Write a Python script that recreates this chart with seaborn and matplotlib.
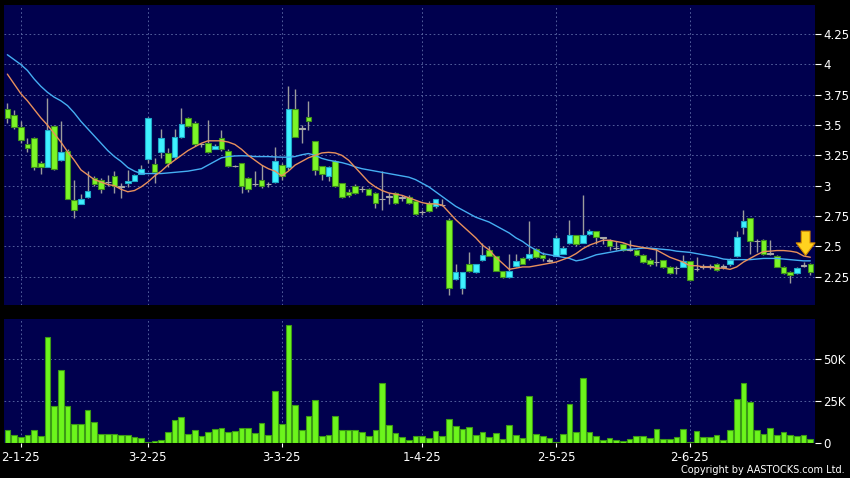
import matplotlib
matplotlib.use('Agg')
import matplotlib.pyplot as plt
import seaborn as sns
import numpy as np

# daily candles, 30-12-24 .. 27-6-25
opens = [3.63, 3.58, 3.48, 3.34, 3.39, 3.19, 3.15, 3.49, 3.21, 3.29,
         2.88, 2.85, 2.905, 3.06, 3.05, 3.03, 3.08, 2.99, 3.02, 3.04,
         3.10, 3.22, 3.18, 3.28, 3.27, 3.24, 3.40, 3.56, 3.52, 3.34,
         3.35, 3.30, 3.39, 3.29, 3.16, 3.19, 3.06, 3.01, 3.05, 3.01,
         3.03, 3.17, 3.15, 3.63, 3.47, 3.57, 3.37, 3.16, 3.08, 3.20,
         3.02, 2.945, 3.00, 2.97, 2.97, 2.94, 2.89, 2.91, 2.94, 2.90,
         2.91, 2.87, 2.78, 2.86, 2.83, 2.84, 2.72, 2.23, 2.16, 2.35,
         2.29, 2.39, 2.47, 2.42, 2.30, 2.25, 2.34, 2.40, 2.40, 2.48,
         2.43, 2.38, 2.42, 2.44, 2.53, 2.59, 2.53, 2.60, 2.63, 2.57,
         2.555, 2.485, 2.52, 2.47, 2.47, 2.43, 2.39, 2.37, 2.39, 2.33,
         2.32, 2.33, 2.38, 2.31, 2.33, 2.33, 2.35, 2.33, 2.35, 2.42,
         2.66, 2.73, 2.54, 2.55, 2.44, 2.42, 2.33, 2.29, 2.28, 2.34,
         2.35]
highs = [3.68, 3.62, 3.53, 3.39, 3.40, 3.20, 3.72, 3.50, 3.53, 3.30,
         3.05, 2.93, 3.12, 3.08, 3.06, 3.09, 3.12, 3.02, 3.13, 3.10,
         3.17, 3.57, 3.23, 3.47, 3.31, 3.47, 3.64, 3.57, 3.53, 3.35,
         3.545, 3.34, 3.46, 3.30, 3.17, 3.19, 3.07, 3.12, 3.17, 3.03,
         3.32, 3.19, 3.82, 3.80, 3.50, 3.70, 3.37, 3.16, 3.16, 3.21,
         3.02, 2.97, 3.01, 3.00, 2.98, 2.95, 3.12, 2.94, 2.95, 2.92,
         2.92, 2.88, 2.80, 2.87, 2.89, 2.89, 2.73, 2.35, 2.29, 2.45,
         2.35, 2.53, 2.50, 2.42, 2.30, 2.44, 2.44, 2.41, 2.71, 2.49,
         2.45, 2.40, 2.59, 2.50, 2.72, 2.59, 2.92, 2.64, 2.63, 2.58,
         2.56, 2.54, 2.53, 2.55, 2.48, 2.44, 2.40, 2.485, 2.39, 2.34,
         2.34, 2.43, 2.38, 2.41, 2.35, 2.35, 2.36, 2.35, 2.40, 2.63,
         2.80, 2.73, 2.56, 2.56, 2.55, 2.43, 2.34, 2.30, 2.33, 2.37,
         2.36]
lows = [3.52, 3.47, 3.35, 3.28, 3.13, 3.10, 3.15, 3.13, 3.20, 2.89,
        2.73, 2.85, 2.90, 3.00, 2.94, 3.00, 2.94, 2.90, 2.99, 3.04,
        3.10, 3.19, 3.02, 3.23, 3.15, 3.22, 3.39, 3.48, 3.33, 3.32,
        3.27, 3.30, 3.29, 3.15, 3.15, 2.94, 2.95, 3.00, 2.98, 2.99,
        3.02, 3.05, 3.13, 3.40, 3.35, 3.46, 3.09, 3.05, 3.04, 2.99,
        2.90, 2.91, 2.93, 2.95, 2.92, 2.82, 2.80, 2.85, 2.85, 2.87,
        2.85, 2.76, 2.76, 2.78, 2.82, 2.83, 2.10, 2.22, 2.11, 2.29,
        2.28, 2.38, 2.42, 2.30, 2.24, 2.24, 2.33, 2.35, 2.39, 2.40,
        2.38, 2.37, 2.42, 2.44, 2.52, 2.50, 2.53, 2.59, 2.52, 2.52,
        2.47, 2.47, 2.46, 2.46, 2.42, 2.36, 2.34, 2.34, 2.32, 2.27,
        2.27, 2.33, 2.21, 2.30, 2.31, 2.31, 2.30, 2.31, 2.34, 2.41,
        2.60, 2.44, 2.45, 2.43, 2.43, 2.33, 2.27, 2.20, 2.27, 2.33,
        2.26]
closes = [3.56, 3.48, 3.38, 3.31, 3.15, 3.15, 3.46, 3.14, 3.28, 2.89,
          2.80, 2.89, 2.96, 3.01, 2.97, 3.03, 3.00, 2.99, 3.04, 3.09,
          3.14, 3.56, 3.11, 3.39, 3.19, 3.40, 3.51, 3.49, 3.34, 3.34,
          3.28, 3.33, 3.30, 3.165, 3.16, 3.00, 2.97, 3.01, 3.00, 3.01,
          3.20, 3.08, 3.63, 3.40, 3.47, 3.53, 3.13, 3.10, 3.15, 3.00,
          2.91, 2.92, 2.94, 2.97, 2.925, 2.86, 2.89, 2.91, 2.86, 2.90,
          2.86, 2.77, 2.78, 2.79, 2.89, 2.84, 2.16, 2.29, 2.29, 2.30,
          2.35, 2.43, 2.42, 2.30, 2.25, 2.30, 2.38, 2.35, 2.44, 2.41,
          2.40, 2.38, 2.57, 2.49, 2.59, 2.52, 2.59, 2.63, 2.58, 2.57,
          2.50, 2.485, 2.47, 2.47, 2.43, 2.37, 2.35, 2.37, 2.33, 2.28,
          2.32, 2.38, 2.22, 2.31, 2.33, 2.33, 2.305, 2.33, 2.39, 2.58,
          2.71, 2.54, 2.54, 2.44, 2.44, 2.33, 2.28, 2.26, 2.32, 2.34,
          2.29]
# volume in thousands of shares
volumes = [8.0, 5.0, 3.8, 4.6, 8.0, 4.4, 63.4, 22.3, 43.7, 22.3,
           11.6, 11.4, 19.5, 12.4, 5.2, 5.6, 5.4, 4.6, 5.0, 3.8,
           3.2, 0.3, 1.2, 1.8, 6.8, 13.6, 15.4, 5.4, 7.8, 4.0,
           6.8, 8.6, 9.2, 6.4, 7.4, 9.0, 9.0, 6.0, 11.8, 4.8,
           31.1, 11.6, 70.8, 22.9, 7.6, 16.2, 25.7, 4.2, 5.0, 16.2,
           7.8, 8.0, 8.0, 6.8, 4.4, 7.6, 35.9, 10.6, 6.2, 3.4,
           2.0, 4.4, 4.0, 3.0, 7.4, 4.0, 14.4, 10.0, 8.4, 9.6,
           5.0, 6.6, 3.4, 6.0, 2.6, 10.6, 5.0, 3.0, 27.9, 5.4,
           4.0, 3.0, 0.6, 5.4, 23.3, 6.6, 38.7, 6.6, 4.4, 2.0,
           3.0, 1.8, 1.4, 2.6, 4.0, 4.0, 3.0, 8.6, 2.6, 2.6,
           3.8, 8.4, 0.4, 7.0, 3.4, 3.4, 4.6, 2.0, 8.0, 26.3,
           35.9, 24.3, 8.0, 5.6, 9.0, 4.8, 6.4, 5.0, 4.4, 4.6,
           2.4]
# moving averages as drawn on the chart
ma_short = [3.92, 3.84, 3.76, 3.70, 3.63, 3.56, 3.50, 3.43, 3.36, 3.28,
            3.21, 3.13, 3.09, 3.05, 3.03, 3.01, 3.00, 2.97, 2.95, 2.96,
            2.99, 3.03, 3.08, 3.12, 3.17, 3.21, 3.25, 3.29, 3.32, 3.35,
            3.37, 3.37, 3.37, 3.36, 3.34, 3.30, 3.25, 3.21, 3.17, 3.14,
            3.12, 3.08, 3.12, 3.17, 3.20, 3.23, 3.25, 3.27, 3.275, 3.27,
            3.25, 3.21, 3.15, 3.09, 3.03, 2.99, 2.96, 2.94, 2.93, 2.92,
            2.90, 2.88, 2.86, 2.85, 2.85, 2.84, 2.78, 2.72, 2.67, 2.62,
            2.57, 2.51, 2.47, 2.41, 2.36, 2.31, 2.32, 2.33, 2.33, 2.34,
            2.35, 2.36, 2.37, 2.39, 2.41, 2.44, 2.48, 2.51, 2.53, 2.55,
            2.55, 2.54, 2.53, 2.51, 2.50, 2.49, 2.48, 2.47, 2.44, 2.41,
            2.39, 2.37, 2.34, 2.34, 2.33, 2.33, 2.32, 2.32, 2.31, 2.33,
            2.37, 2.40, 2.43, 2.457, 2.46, 2.465, 2.465, 2.46, 2.45, 2.42,
            2.41]
ma_long = [4.08, 4.04, 4.00, 3.95, 3.88, 3.82, 3.77, 3.73, 3.70, 3.66,
           3.60, 3.53, 3.47, 3.41, 3.35, 3.29, 3.24, 3.20, 3.15, 3.12,
           3.10, 3.10, 3.10, 3.10, 3.105, 3.11, 3.115, 3.12, 3.13, 3.14,
           3.17, 3.20, 3.23, 3.24, 3.245, 3.247, 3.245, 3.24, 3.24, 3.24,
           3.237, 3.235, 3.235, 3.24, 3.255, 3.265, 3.25, 3.225, 3.21, 3.20,
           3.19, 3.175, 3.155, 3.14, 3.13, 3.12, 3.11, 3.10, 3.09, 3.08,
           3.07, 3.05, 3.02, 2.99, 2.95, 2.91, 2.87, 2.83, 2.80, 2.77,
           2.74, 2.72, 2.70, 2.67, 2.64, 2.61, 2.57, 2.54, 2.50, 2.47,
           2.44, 2.43, 2.42, 2.41, 2.40, 2.38, 2.39, 2.41, 2.43, 2.44,
           2.45, 2.46, 2.47, 2.476, 2.48, 2.485, 2.485, 2.48, 2.475, 2.47,
           2.46, 2.455, 2.45, 2.44, 2.43, 2.42, 2.41, 2.395, 2.39, 2.39,
           2.39, 2.39, 2.395, 2.40, 2.40, 2.40, 2.395, 2.39, 2.385, 2.38,
           2.38]

date_ticks = [2, 21, 41, 62, 82, 102]
date_labels = ['2-1-25', '3-2-25', '3-3-25', '1-4-25', '2-5-25', '2-6-25']
price_ticks = [2.25, 2.5, 2.75, 3.0, 3.25, 3.5, 3.75, 4.0, 4.25]
price_labels = ['2.25', '2.5', '2.75', '3', '3.25', '3.5', '3.75', '4', '4.25']
vol_ticks = [0, 25, 50]
vol_labels = ['0', '25K', '50K']

BG = '#00004e'
GRID = '#5f6da8'
UP_FILL, UP_EDGE = '#3ff2ff', '#1fa8c8'
DN_FILL, DN_EDGE = '#7cf527', '#3f8f1c'
FLAT = '#a8a8a8'

sns.set_theme(style='dark', rc={'axes.facecolor': BG, 'figure.facecolor': 'black'})
plt.rcParams['font.family'] = ['DejaVu Sans']

fig = plt.figure(figsize=(8.5, 4.78), dpi=100, facecolor='black')
ax = fig.add_axes([4 / 850, 1 - 305 / 478, 811 / 850, 300 / 478])
axv = fig.add_axes([4 / 850, 1 - 443 / 478, 811 / 850, 124 / 478])

x = np.arange(len(opens))
o = np.array(opens)
c = np.array(closes)
fills = np.where(c > o, UP_FILL, np.where(c < o, DN_FILL, FLAT))
edges = np.where(c > o, UP_EDGE, np.where(c < o, DN_EDGE, FLAT))

# candles
ax.vlines(x, lows, highs, color='#9c9c9c', lw=1, zorder=2)
body_h = np.maximum(np.abs(c - o), 0.004)
ax.bar(x, body_h, bottom=np.minimum(o, c), width=0.84, color=fills,
       edgecolor=edges, linewidth=0.8, zorder=3)

sns.lineplot(x=x, y=ma_long, ax=ax, color='#45aef2', lw=1.0, zorder=4)
sns.lineplot(x=x, y=ma_short, ax=ax, color='#e8905c', lw=1.0, zorder=4)

# signal arrow
ax.annotate('', xy=(119.3, 2.425), xytext=(119.3, 2.625),
            arrowprops=dict(arrowstyle='simple,head_width=1.5,head_length=1.0,tail_width=0.7',
                            fc='#ffd21f', ec='#d88a00', lw=0.8, mutation_scale=9,
                            shrinkA=0, shrinkB=0),
            zorder=6)

ax.set_xlim(-0.5, 120.7)
ax.set_ylim(2.016, 4.49)
ax.set_yticks(price_ticks, price_labels)
ax.set_xticks(date_ticks, [''] * len(date_ticks))
ax.yaxis.tick_right()

# volume
sns.barplot(x=x, y=volumes, ax=axv, native_scale=True, color='#6cf51c',
            edgecolor='#3c9a16', linewidth=0.8, saturation=1, errorbar=None,
            width=0.85, zorder=3)
axv.set_xlim(-0.5, 120.7)
axv.set_ylim(0, 74.2)
axv.set_yticks(vol_ticks, vol_labels)
axv.set_xticks(date_ticks, date_labels)
axv.yaxis.tick_right()
axv.set_xlabel('')
axv.set_ylabel('')

for a in (ax, axv):
    a.set_facecolor(BG)
    a.grid(True, color=GRID, ls=(0, (2, 3)), lw=0.6)
    a.set_axisbelow(True)
    for s in a.spines.values():
        s.set_visible(False)
    a.tick_params(axis='y', colors='white', length=4, width=0.8, pad=2,
                  labelsize=8.5, direction='out', right=True, left=False)
ax.tick_params(axis='x', length=0)
axv.tick_params(axis='x', colors='white', length=3, width=0.8, pad=3,
                labelsize=8.5, bottom=True, direction='out')
for lbl in axv.get_xticklabels():
    lbl.set_color('white')

fig.text(845 / 850, 1 - 470 / 478, 'Copyright by AASTOCKS.com Ltd.', ha='right',
         va='center', color='white', fontsize=7)

fig.savefig('out.png', dpi=100, facecolor='black')
